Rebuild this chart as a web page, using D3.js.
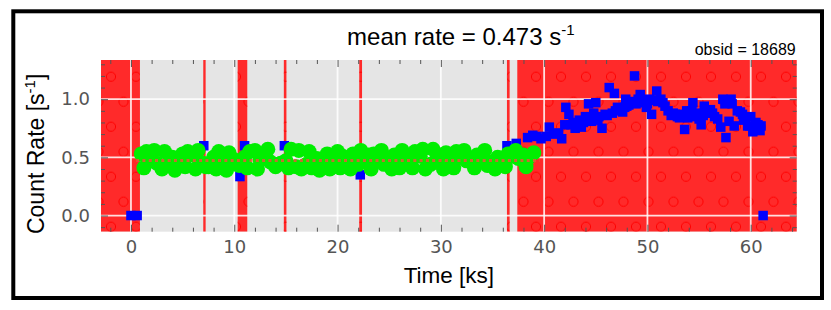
<!DOCTYPE html>
<html>
<head>
<meta charset="utf-8">
<script src="https://cdn.jsdelivr.net/npm/d3@7"></script>
<style>
  body { margin: 0; background: #fff; }
  svg { display: block; }
</style>
</head>
<body>
<svg id="chart"></svg>
<script>
/* light curve data (time in ks, rate in counts/s) */
// green: bins kept for the mean rate
const goodTime = [1.0, 1.5, 2.0, 2.5, 3.0, 3.5, 4.0, 4.5, 5.0, 5.5,
    6.0, 6.5, 7.0, 7.5, 8.0, 8.5, 9.0, 9.5, 10.0, 10.5,
    11.0, 11.5, 12.0, 12.5, 13.0, 13.5, 14.0, 14.5, 15.0, 15.5,
    16.0, 16.5, 17.0, 17.5, 18.0, 18.5, 19.0, 19.5, 20.0, 20.5,
    21.0, 21.5, 22.0, 22.5, 23.0, 23.5, 24.0, 24.5, 25.0, 25.5,
    26.0, 26.5, 27.0, 27.5, 28.0, 28.5, 29.0, 29.5, 30.0, 30.5,
    31.0, 31.5, 32.0, 32.5, 33.0, 33.5, 34.0, 34.5, 35.0, 35.5,
    36.0, 36.5, 37.0, 37.5, 38.0, 38.5, 39.0,
    1.25, 2.25, 3.25, 4.25, 5.25, 6.25, 7.25, 8.25, 9.25, 10.25,
    11.25, 12.25, 13.25, 14.25, 15.25, 16.25, 17.25, 18.25, 19.25, 20.25,
    21.25, 22.25, 23.25, 24.25, 25.25, 26.25, 27.25, 28.25, 29.25, 30.25,
    31.25, 32.25, 33.25, 34.25, 35.25, 36.25, 37.25, 38.25];
const goodRate = [0.53, 0.55, 0.48, 0.45, 0.40, 0.44, 0.50, 0.47, 0.53, 0.55,
    0.52, 0.56, 0.45, 0.42, 0.50, 0.55, 0.47, 0.54, 0.48, 0.43,
    0.50, 0.55, 0.56, 0.48, 0.50, 0.46, 0.42, 0.45, 0.47, 0.57,
    0.42, 0.40, 0.44, 0.41, 0.49, 0.47, 0.53, 0.50, 0.55, 0.51,
    0.47, 0.53, 0.44, 0.47, 0.52, 0.53, 0.48, 0.44, 0.49, 0.52,
    0.41, 0.49, 0.48, 0.55, 0.51, 0.40, 0.44, 0.47, 0.52, 0.54,
    0.45, 0.55, 0.50, 0.47, 0.49, 0.52, 0.46, 0.43, 0.46, 0.50,
    0.49, 0.53, 0.51, 0.49, 0.52, 0.50, 0.54,
    0.41, 0.56, 0.55, 0.39, 0.42, 0.40, 0.42, 0.40, 0.39, 0.44,
    0.41, 0.40, 0.57, 0.44, 0.41, 0.56, 0.55, 0.39, 0.40, 0.41,
    0.40, 0.56, 0.40, 0.56, 0.40, 0.56, 0.41, 0.57, 0.57, 0.40,
    0.41, 0.56, 0.41, 0.56, 0.40, 0.42, 0.56, 0.42];

// blue: all other bins
const allTime = [0.0, 0.6, 7.05, 10.55, 11.0, 14.85, 22.2, 36.4, 37.3,
    38.4, 38.9, 39.3, 39.7, 40.2, 40.5, 40.9, 41.4, 41.7,
    42.0, 42.1, 42.4, 42.8, 43.0, 43.4, 43.6, 44.0, 44.3, 44.4,
    44.8, 45.0, 45.3, 45.6, 45.9, 46.3, 46.8, 46.9, 47.3, 47.6,
    47.9, 48.2, 48.5, 48.75, 48.9, 49.3, 49.5, 49.9, 50.2, 50.4,
    50.9, 51.3, 51.7, 52.0, 52.3, 52.7, 52.9, 53.3, 53.6, 53.8,
    54.1, 54.4, 54.6, 54.9, 55.2, 55.5, 55.8, 56.1, 56.5, 56.8,
    57.1, 57.3, 57.6, 57.9, 58.1, 58.4, 58.7, 59.0, 59.2, 59.5,
    59.7, 60.0, 60.2, 60.5, 60.7, 61.0, 61.2,
    42.6, 43.2, 43.8, 44.6, 45.2, 46.1, 46.6, 47.1, 47.8, 48.0,
    49.1, 49.7, 50.0, 50.6, 51.0, 51.5, 52.5, 53.1, 53.9, 54.3,
    55.0, 55.4, 56.3, 57.5, 58.2, 59.3, 59.9, 60.4, 60.9];
const allRate = [0.0, 0.0, 0.60, 0.335, 0.60, 0.60, 0.35, 0.60, 0.62,
    0.67, 0.69, 0.68, 0.66, 0.68, 0.76, 0.70, 0.71, 0.66,
    0.78, 0.93, 0.87, 0.80, 0.75, 0.82, 0.76, 0.85, 0.96, 0.83,
    0.88, 0.97, 0.85, 0.75, 0.87, 1.10, 1.05, 0.90, 0.92, 0.89,
    1.00, 0.95, 0.98, 1.20, 0.96, 1.04, 0.97, 0.93, 1.00, 0.87,
    1.07, 1.00, 0.94, 0.90, 0.86, 0.87, 0.85, 0.87, 0.74, 0.90,
    0.88, 0.97, 0.85, 0.88, 0.78, 0.94, 0.88, 0.91, 0.85, 0.83,
    0.76, 1.00, 0.67, 0.81, 1.00, 0.77, 0.90, 0.89, 0.87, 0.83,
    0.77, 0.85, 0.72, 0.80, 0.78, 0.77, 0.00,
    0.78, 0.79, 0.80, 0.81, 0.82, 0.86, 0.88, 0.93, 0.93, 0.94,
    1.00, 0.98, 0.96, 0.99, 0.98, 0.97, 0.88, 0.84, 0.84, 0.90,
    0.83, 0.86, 0.88, 0.96, 0.96, 0.82, 0.77, 0.74, 0.73];

// flagged (red) time intervals, ks
const flagStart = [-3, 7.0, 10.33, 14.8, 22.1, 36.4, 37.4];
const flagEnd = [0.87, 7.23, 11.26, 15.05, 22.37, 36.66, 65];

const meanRate = 0.473;
const meanSpan = [0.5, 39.6];
const obsid = 18689;

const xTicks = [0, 10, 20, 30, 40, 50, 60];
const yTicks = [0.0, 0.5, 1.0];

/* layout */
const W = 831, H = 310;
const plot = {left: 101, top: 60, right: 796.7, bottom: 231.7};

let svg = d3.select("#chart")
    .attr("width", W)
    .attr("height", H);

let x = d3.scaleLinear()
    .domain([-2.9, 64.45])
    .range([plot.left, plot.right]);

let y = d3.scaleLinear()
    .domain([-0.139, 1.337])
    .range([plot.bottom, plot.top]);

// hatch pattern for the flagged bands (circles)
let defs = svg.append("defs");
let pat = defs.append("pattern")
    .attr("id", "hatch")
    .attr("patternUnits", "userSpaceOnUse")
    .attr("x", 11).attr("y", 26.7)
    .attr("width", 25).attr("height", 50);
[[0, 0], [25, 0], [0, 50], [25, 50], [12.5, 25]].forEach(p => {
    pat.append("circle")
        .attr("cx", p[0]).attr("cy", p[1]).attr("r", 4.6)
        .attr("fill", "none")
        .attr("stroke", "#ff0000")
        .attr("stroke-width", 1);
});
defs.append("clipPath").attr("id", "plotclip")
    .append("rect")
    .attr("x", plot.left).attr("y", plot.top)
    .attr("width", plot.right - plot.left)
    .attr("height", plot.bottom - plot.top);

// outer frame
svg.append("rect")
    .attr("x", 13.3).attr("y", 11.3)
    .attr("width", 808.7).attr("height", 286.7)
    .attr("fill", "#fff")
    .attr("stroke", "#000")
    .attr("stroke-width", 4);

// plot background
svg.append("rect")
    .attr("x", plot.left).attr("y", plot.top)
    .attr("width", plot.right - plot.left)
    .attr("height", plot.bottom - plot.top)
    .attr("fill", "#e5e5e5");

let flags = flagStart.map((s, i) => ({start: s, end: flagEnd[i]}));
let bands = svg.append("g").attr("clip-path", "url(#plotclip)");

bands.selectAll("rect.band")
    .data(flags)
    .enter()
        .append("rect")
        .attr("class", "band")
        .attr("x", d => x(d.start))
        .attr("y", plot.top)
        .attr("width", d => x(d.end) - x(d.start))
        .attr("height", plot.bottom - plot.top)
        .attr("fill", "#ff2a2a");

bands.selectAll("rect.hatch")
    .data(flags)
    .enter()
        .append("rect")
        .attr("class", "hatch")
        .attr("x", d => x(d.start))
        .attr("y", plot.top)
        .attr("width", d => x(d.end) - x(d.start))
        .attr("height", plot.bottom - plot.top)
        .attr("fill", "url(#hatch)");

// white grid
let grid = svg.append("g").attr("class", "grid");
grid.selectAll("line.gx")
    .data(xTicks)
    .enter()
        .append("line")
        .attr("x1", d => x(d)).attr("x2", d => x(d))
        .attr("y1", plot.top).attr("y2", plot.bottom);
grid.selectAll("line.gy")
    .data(yTicks)
    .enter()
        .append("line")
        .attr("x1", plot.left).attr("x2", plot.right)
        .attr("y1", d => y(d)).attr("y2", d => y(d));
grid.selectAll("line")
    .attr("stroke", "#fff")
    .attr("stroke-opacity", 0.85)
    .attr("stroke-width", 1.8);

// ticks on all four sides, pointing inwards
const minorX = d3.range(-2, 65, 2).filter(v => v % 10 !== 0);
const minorY = d3.range(-1, 14).map(v => v / 10).filter(v => Math.round(v * 10) % 5 !== 0);

function tickStyle(g) {
    g.select(".domain").remove();
    g.selectAll(".tick line").attr("stroke", "#555").attr("stroke-width", 1);
    g.selectAll(".tick text")
        .attr("fill", "#555")
        .style("font-family", "'DejaVu Sans', sans-serif")
        .style("font-size", "18px");
}

svg.append("g")
    .attr("transform", `translate(0, ${plot.bottom})`)
    .call(d3.axisBottom(x).tickValues(xTicks).tickSize(-7).tickPadding(9).tickFormat(d3.format("d")))
    .call(tickStyle);
svg.append("g")
    .attr("transform", `translate(0, ${plot.bottom})`)
    .call(d3.axisBottom(x).tickValues(minorX).tickSize(-4).tickFormat(""))
    .call(tickStyle);
svg.append("g")
    .attr("transform", `translate(0, ${plot.top})`)
    .call(d3.axisTop(x).tickValues(xTicks).tickSize(-7).tickFormat(""))
    .call(tickStyle);
svg.append("g")
    .attr("transform", `translate(0, ${plot.top})`)
    .call(d3.axisTop(x).tickValues(minorX).tickSize(-4).tickFormat(""))
    .call(tickStyle);

svg.append("g")
    .attr("transform", `translate(${plot.left}, 0)`)
    .call(d3.axisLeft(y).tickValues(yTicks).tickSize(-7).tickPadding(11).tickFormat(d3.format(".1f")))
    .call(tickStyle);
svg.append("g")
    .attr("transform", `translate(${plot.left}, 0)`)
    .call(d3.axisLeft(y).tickValues(minorY).tickSize(-4).tickFormat(""))
    .call(tickStyle);
svg.append("g")
    .attr("transform", `translate(${plot.right}, 0)`)
    .call(d3.axisRight(y).tickValues(yTicks).tickSize(-7).tickFormat(""))
    .call(tickStyle);
svg.append("g")
    .attr("transform", `translate(${plot.right}, 0)`)
    .call(d3.axisRight(y).tickValues(minorY).tickSize(-4).tickFormat(""))
    .call(tickStyle);

// data
let allPts = allTime.map((t, i) => ({t: t, r: allRate[i]}));
let goodPts = goodTime.map((t, i) => ({t: t, r: goodRate[i]}));
const sq = 9.5;

let pts = svg.append("g").attr("clip-path", "url(#plotclip)");
pts.selectAll("rect.all")
    .data(allPts)
    .enter()
        .append("rect")
        .attr("class", "all")
        .attr("x", d => x(d.t) - sq / 2)
        .attr("y", d => y(d.r) - sq / 2)
        .attr("width", sq)
        .attr("height", sq)
        .attr("fill", "#0000ff");

pts.selectAll("circle.good")
    .data(goodPts)
    .enter()
        .append("circle")
        .attr("class", "good")
        .attr("cx", d => x(d.t))
        .attr("cy", d => y(d.r))
        .attr("r", 7.5)
        .attr("fill", "#00ee00");

// mean rate line
pts.append("line")
    .attr("x1", x(meanSpan[0])).attr("x2", x(meanSpan[1]))
    .attr("y1", y(meanRate)).attr("y2", y(meanRate))
    .attr("stroke", "#e8553a")
    .attr("stroke-opacity", 0.85)
    .attr("stroke-width", 3)
    .attr("stroke-dasharray", "3,3.3");

// texts
const sans = "'Liberation Sans', Arial, sans-serif";

let title = svg.append("text")
    .attr("x", (plot.left + plot.right) / 2 + 12)
    .attr("y", 45)
    .attr("text-anchor", "middle")
    .style("font-family", sans)
    .style("font-size", "24px")
    .attr("fill", "#000");
title.append("tspan").text(`mean rate = ${meanRate.toFixed(3)} s`);
title.append("tspan").attr("dy", -10).style("font-size", "15px").text("-1");

svg.append("text")
    .attr("x", plot.right - 1)
    .attr("y", 55)
    .attr("text-anchor", "end")
    .style("font-family", sans)
    .style("font-size", "16px")
    .text(`obsid = ${obsid}`);

svg.append("text")
    .attr("x", (plot.left + plot.right) / 2)
    .attr("y", 283)
    .attr("text-anchor", "middle")
    .style("font-family", sans)
    .style("font-size", "22.5px")
    .text("Time [ks]");

let ylab = svg.append("text")
    .attr("transform", `translate(44, ${(plot.top + plot.bottom) / 2 + 8}) rotate(-90)`)
    .attr("text-anchor", "middle")
    .style("font-family", sans)
    .style("font-size", "23px");
ylab.append("tspan").text("Count Rate [s");
ylab.append("tspan").attr("dy", -9).style("font-size", "15px").text("-1");
ylab.append("tspan").attr("dy", 9).text("]");
</script>
</body>
</html>
